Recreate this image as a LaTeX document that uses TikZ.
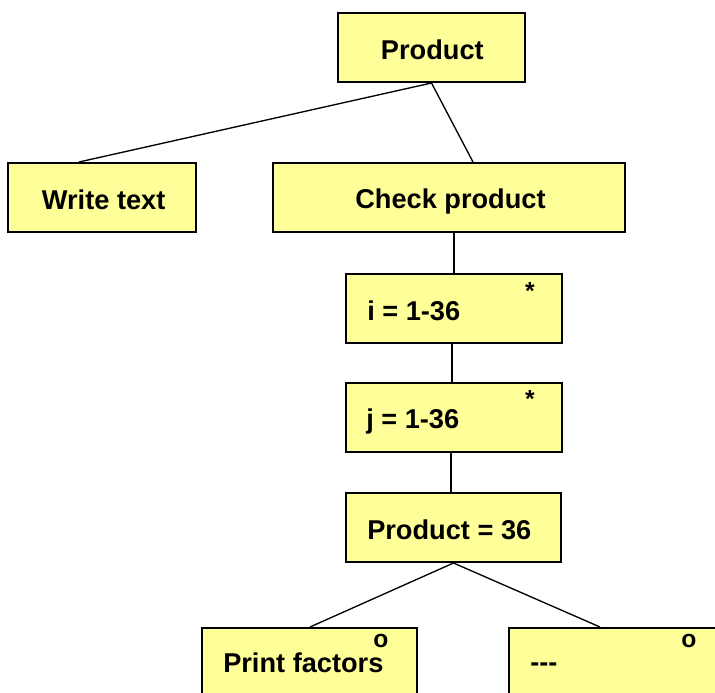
\documentclass[tikz,border=0pt]{standalone}
\usepackage{fontspec}
\setmainfont[Ligatures=NoCommon]{Liberation Sans}
\usetikzlibrary{calc}
\definecolor{boxfill}{HTML}{FFFF99}
\tikzset{
  box/.style={draw=black, line width=1.5pt, fill=boxfill, rectangle, inner sep=0pt,
    minimum height=69*0.75pt},
  lbl/.style={inner sep=0pt, anchor=base west, font=\fontsize{20.4}{24}\selectfont\bfseries},
  marker/.style={inner sep=0pt, font=\fontsize{18.5}{22}\selectfont\bfseries},
  conn/.style={draw=black, line width=1pt}
}
\begin{document}
\begin{tikzpicture}[x=0.75pt,y=-0.75pt]
\useasboundingbox (0,0) rectangle (715,693);
\clip (0,0) rectangle (715,693);
\node[box, minimum width=187*0.75pt] (prod) at (431.5,47.5) {};
\node[box, minimum width=188*0.75pt] (wt) at (102,197.5) {};
\node[box, minimum width=352*0.75pt] (cp) at (449,197.5) {};
\node[box, minimum width=216*0.75pt] (ii) at (454,308.5) {};
\node[box, minimum width=216*0.75pt] (jj) at (454,417.5) {};
\node[box, minimum width=215*0.75pt] (p36) at (453.5,527.5) {};
\node[box, minimum width=215*0.75pt] (pf) at (309.5,662.5) {};
\node[box, minimum width=215*0.75pt] (dd) at (616.5,662.5) {};
% texts
\node[lbl] (prodtext) at (380.7,59.3) {Product};
\node[lbl] (wttext) at (41.7,209.3) {Write text};
\node[lbl] (cptext) at (355,208.5) {Check product};
\node[lbl] (itext) at (367,320) {i = 1-36};
\node[lbl] (jtext) at (366,428) {j = 1-36};
\node[lbl] (p36text) at (367,539.3) {Product = 36};
\node[lbl] (pftext) at (223,672) {Print factors};
\node[lbl] (ddtext) at (530,671) {-{}-{}-};
\node[marker] (istar) at (530,291) {*};
\node[marker] (jstar) at (530,399) {*};
\node[marker] (pfo) at (381,641) {o};
\node[marker] (ddo) at (689,641) {o};
% connectors
\draw[conn] (prod.south) -- ($(wt.north west)+(72,0)$);
\draw[conn] (prod.south) -- ($(cp.north west)+(201,0)$);
\draw[conn] ($(cp.south west)+(182,0)$) -- ($(ii.north west)+(109,0)$);
\draw[conn] ($(ii.south west)+(107,0)$) -- ($(jj.north west)+(107,0)$);
\draw[conn] ($(jj.south west)+(106,0)$) -- ($(p36.north west)+(106,0)$);
\draw[conn] (p36.south) -- ($(pf.north west)+(109,0)$);
\draw[conn] (p36.south) -- ($(dd.north west)+(92,0)$);
\end{tikzpicture}
\end{document}
